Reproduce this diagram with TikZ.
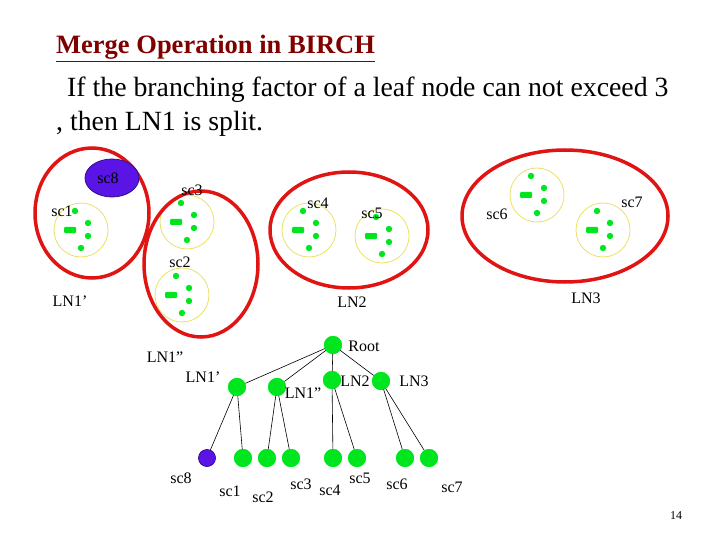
\documentclass[tikz,border=0pt]{standalone}
\usepackage{fontspec}
\setmainfont{Liberation Serif}
\definecolor{grn}{RGB}{0,230,30}
\definecolor{ered}{RGB}{225,20,20}
\definecolor{ttl}{RGB}{128,0,0}
\definecolor{blu}{RGB}{90,20,230}
\definecolor{ylw}{RGB}{235,225,100}
\tikzset{
  redell/.style={draw=ered,line width=3.5pt},
  clu/.style={draw=ylw,line width=0.8pt,fill=white},
  lbl/.style={font=\fontsize{16}{16}\selectfont,inner sep=0pt},
  tn/.style={circle,fill=grn,minimum size=18pt,inner sep=0pt},
  ed/.style={draw=black,line width=0.6pt}
}
\newcommand{\clust}[3]{%
  \draw[clu] (#2,#3) circle (27);
  \fill[grn] (#2-6,#3-19) circle (3.2);
  \fill[grn] (#2+7,#3-7) circle (3.2);
  \fill[grn,rounded corners=1pt] (#2-17,#3-3) rectangle (#2-5,#3+3);
  \fill[grn] (#2+7,#3+6) circle (3.2);
  \fill[grn] (#2,#3+18) circle (3.2);
  \coordinate (#1) at (#2,#3);}
\begin{document}
\begin{tikzpicture}[x=1pt,y=-1pt]
\useasboundingbox[fill=white] (0,0) rectangle (720,540);
\node[anchor=base west,inner sep=0pt,text=ttl,font=\fontsize{26.5}{26}\selectfont\bfseries] (title) at (56,54) {\underline{Merge Operation in BIRCH}};
\node[anchor=base west,inner sep=0pt,font=\fontsize{27.8}{28}\selectfont] (l1) at (67,97) {If the branching factor of a leaf node can not exceed 3};
\node[anchor=base west,inner sep=0pt,font=\fontsize{27.8}{28}\selectfont] (l2) at (56,131) {, then LN1 is split.};
% clusters
\clust{c1}{81}{230}
\clust{c3}{187}{222}
\clust{c2}{182}{295}
\clust{c4}{309}{230}
\clust{c5}{382}{236}
\clust{c6}{537}{195}
\clust{c7}{603}{230}
% red ellipses
\draw[redell] (92,213) ellipse [x radius=57,y radius=65];
\draw[redell] (201,264) ellipse [x radius=57,y radius=73];
\draw[redell] (349,230) ellipse [x radius=79,y radius=58];
\draw[redell] (565,216) ellipse [x radius=103,y radius=66];
\draw[draw=blu!60!black,fill=blu,line width=0.8pt] (112,178) ellipse [x radius=27,y radius=19];
\node[lbl] (s8) at (108,178) {sc8};
\node[lbl] (s1) at (62,211) {sc1};
\node[lbl] (s3) at (192,190) {sc3};
\node[lbl] (s2) at (180,262) {sc2};
\node[lbl] (s4) at (318,203) {sc4};
\node[lbl] (s5) at (372,213) {sc5};
\node[lbl] (s6) at (497,214) {sc6};
\node[lbl] (s7) at (632,202) {sc7};
\node[lbl] (ln1p) at (70,301) {LN1’};
\node[lbl] (ln2) at (352,302) {LN2};
\node[lbl] (ln3) at (586,298) {LN3};
% tree
\node[tn] (root) at (333,345) {};
\node[tn] (a) at (237,387) {};
\node[tn] (b) at (277,387) {};
\node[tn] (c) at (332,380) {};
\node[tn] (d) at (381,381) {};
\node[tn,fill=blu,draw=blu!50!black,minimum size=17pt] (t8) at (207,458) {};
\node[tn] (t1) at (243,458) {};
\node[tn] (t2) at (267,458) {};
\node[tn] (t3) at (291,458) {};
\node[tn] (t4) at (333,458) {};
\node[tn] (t5) at (357,458) {};
\node[tn] (t6) at (405,458) {};
\node[tn] (t7) at (429,458) {};
\foreach \x in {a,b,c,d} \draw[ed] (root.center) -- (\x);
\draw[ed] (a.center) -- (t8); \draw[ed] (a.center) -- (t1);
\draw[ed] (b.center) -- (t2); \draw[ed] (b.center) -- (t3);
\draw[ed] (c.center) -- (t4); \draw[ed] (c.center) -- (t5);
\draw[ed] (d.center) -- (t6); \draw[ed] (d.center) -- (t7);
\foreach \x in {root,a,b,c,d,t1,t2,t3,t4,t5,t6,t7} \node[tn] at (\x) {};
\node[tn,fill=blu,draw=blu!50!black,minimum size=17pt] at (t8) {};
\node[lbl] (lr) at (364,346) {Root};
\node[lbl] (lt) at (165,357) {LN1”};
\node[lbl] (la) at (203,377) {LN1’};
\node[lbl] (lb) at (303,393) {LN1”};
\node[lbl] (lc) at (355,381) {LN2};
\node[lbl] (ld) at (414,381) {LN3};
\node[lbl] (n8) at (181,478) {sc8};
\node[lbl] (n1) at (230,491) {sc1};
\node[lbl] (n2) at (263,497) {sc2};
\node[lbl] (n3) at (301,484) {sc3};
\node[lbl] (n4) at (330,490) {sc4};
\node[lbl] (n5) at (360,478) {sc5};
\node[lbl] (n6) at (397,484) {sc6};
\node[lbl] (n7) at (452,487) {sc7};
\node[inner sep=0pt,font=\fontsize{12}{12}\selectfont] (pg) at (676,516) {14};
\end{tikzpicture}
\end{document}
